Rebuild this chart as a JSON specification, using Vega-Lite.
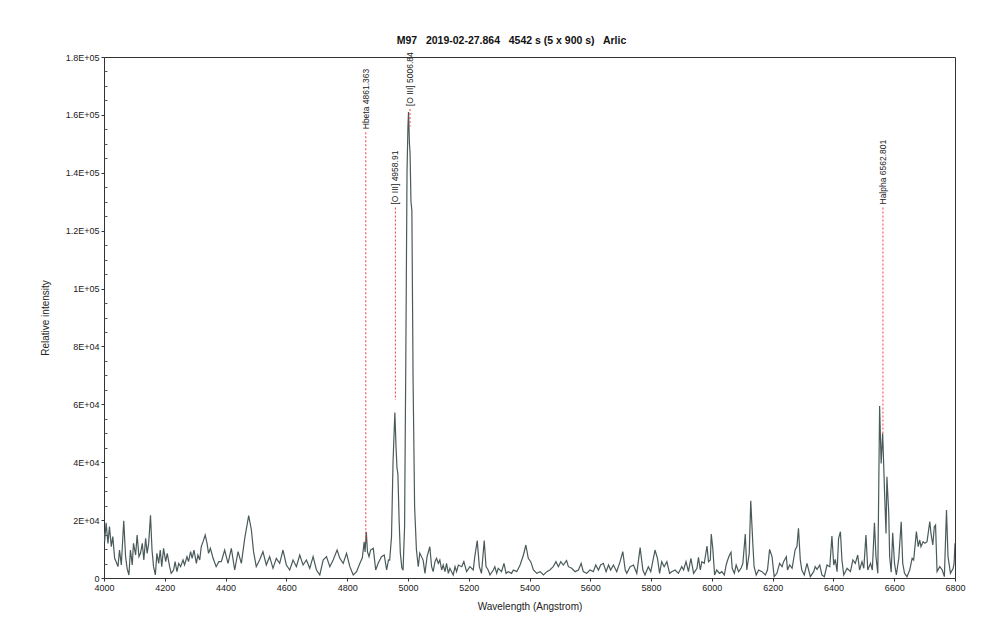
{
  "$schema": "https://vega.github.io/schema/vega-lite/v6.json",
  "width": 851,
  "height": 521,
  "autosize": {"type": "none"},
  "padding": {"left": 104, "top": 57, "right": 45, "bottom": 61},
  "background": "white",
  "config": {
    "view": {"stroke": "#333333", "strokeWidth": 1},
    "font": "Liberation Sans",
    "axis": {"grid": false, "domainColor": "#333333", "tickColor": "#333333", "labelColor": "#222222", "titleColor": "#222222", "labelFont": "Liberation Sans", "titleFont": "Liberation Sans", "labelFontSize": 9, "titleFontSize": 10, "titleFontWeight": "normal", "labelFlush": false}
  },
  "title": {"text": "M97\u00a0\u00a0 2019-02-27.864\u00a0\u00a0 4542 s (5 x 900 s)\u00a0\u00a0 Arlic", "fontSize": 10.5, "fontWeight": "bold", "color": "#111111", "anchor": "middle", "dx": -18, "offset": 6, "font": "Liberation Sans"},
  "datasets": {
    "spec": [
      {"w":4000,"f":16000},{"w":4002,"f":12550},{"w":4007,"f":19100},{"w":4013,"f":11980},{"w":4018,"f":17735},{"w":4024,"f":10830},{"w":4029,"f":14280},{"w":4035,"f":6800},{"w":4040,"f":5640},{"w":4046,"f":3915},{"w":4051,"f":9670},{"w":4057,"f":4490},{"w":4065,"f":19810},{"w":4071,"f":7370},{"w":4076,"f":3340},{"w":4082,"f":1040},{"w":4087,"f":9670},{"w":4093,"f":4490},{"w":4097,"f":11980},{"w":4104,"f":7950},{"w":4109,"f":14860},{"w":4115,"f":7370},{"w":4120,"f":8520},{"w":4126,"f":11980},{"w":4131,"f":6220},{"w":4137,"f":13700},{"w":4142,"f":8520},{"w":4147,"f":11980},{"w":4153,"f":21650},{"w":4158,"f":9670},{"w":4163,"f":3915},{"w":4169,"f":1040},{"w":4174,"f":8520},{"w":4180,"f":5070},{"w":4185,"f":9670},{"w":4190,"f":3915},{"w":4196,"f":10250},{"w":4203,"f":5640},{"w":4208,"f":8520},{"w":4216,"f":3915},{"w":4221,"f":1610},{"w":4229,"f":2760},{"w":4234,"f":5640},{"w":4240,"f":2190},{"w":4246,"f":5070},{"w":4252,"f":3915},{"w":4260,"f":6220},{"w":4265,"f":4490},{"w":4273,"f":7370},{"w":4278,"f":5640},{"w":4285,"f":9100},{"w":4290,"f":6800},{"w":4296,"f":9670},{"w":4304,"f":5070},{"w":4309,"f":7950},{"w":4315,"f":6220},{"w":4320,"f":10830},{"w":4326,"f":12550},{"w":4333,"f":14860},{"w":4339,"f":11980},{"w":4344,"f":8520},{"w":4350,"f":10250},{"w":4359,"f":6800},{"w":4369,"f":3915},{"w":4378,"f":5640},
      {"w":4386,"f":5640},{"w":4397,"f":9670},{"w":4408,"f":5070},{"w":4419,"f":10250},{"w":4430,"f":2760},{"w":4441,"f":9100},{"w":4452,"f":5070},{"w":4463,"f":13700},{"w":4476,"f":21540},{"w":4485,"f":16580},{"w":4492,"f":9100},{"w":4501,"f":3915},{"w":4512,"f":6220},{"w":4523,"f":9100},{"w":4534,"f":4490},{"w":4545,"f":7370},{"w":4556,"f":3340},{"w":4567,"f":6800},{"w":4578,"f":5070},{"w":4589,"f":9670},{"w":4600,"f":4490},{"w":4611,"f":2760},{"w":4622,"f":6220},{"w":4633,"f":3915},{"w":4644,"f":7950},{"w":4655,"f":4490},{"w":4666,"f":6220},{"w":4677,"f":3340},{"w":4688,"f":7370},{"w":4699,"f":2760},{"w":4710,"f":1040},{"w":4721,"f":6220},{"w":4732,"f":7370},{"w":4743,"f":3915},{"w":4754,"f":6220},{"w":4767,"f":9670},{"w":4776,"f":6800},{"w":4787,"f":5070},{"w":4798,"f":8520},{"w":4809,"f":3915},{"w":4820,"f":1040},{"w":4831,"f":2190},{"w":4842,"f":5070},{"w":4850,"f":7000},{"w":4856,"f":12500},{"w":4859,"f":9000},{"w":4863,"f":16000},{"w":4867,"f":9000},{"w":4872,"f":7370},{"w":4877,"f":9670},{"w":4886,"f":10250},{"w":4894,"f":2760},{"w":4902,"f":5070},{"w":4913,"f":7370},{"w":4922,"f":7950},{"w":4930,"f":2760},{"w":4936,"f":6220},{"w":4940,"f":6200},
      {"w":4946,"f":14300},{"w":4951,"f":40000},{"w":4957,"f":57200},{"w":4961,"f":45000},{"w":4964,"f":38000},{"w":4967,"f":36000},{"w":4971,"f":20000},{"w":4975,"f":8600},{"w":4980,"f":3500},{"w":4984,"f":2650},{"w":4989,"f":17600},{"w":4993,"f":75000},{"w":4997,"f":140000},{"w":5000,"f":156000},{"w":5002,"f":161000},{"w":5005,"f":150000},{"w":5007,"f":147000},{"w":5010,"f":130000},{"w":5013,"f":127000},{"w":5017,"f":68000},{"w":5022,"f":24600},{"w":5028,"f":9700},{"w":5034,"f":3900},{"w":5039,"f":8600},{"w":5050,"f":6200},{"w":5056,"f":1600},{"w":5063,"f":7400},{"w":5072,"f":10800},
      {"w":5078,"f":3900},{"w":5083,"f":2200},{"w":5089,"f":5640},{"w":5094,"f":6800},{"w":5100,"f":5070},{"w":5105,"f":6220},{"w":5111,"f":2760},{"w":5116,"f":4490},{"w":5122,"f":2190},{"w":5127,"f":5070},{"w":5133,"f":1610},{"w":5138,"f":3340},{"w":5149,"f":1040},{"w":5155,"f":3915},{"w":5160,"f":2190},{"w":5166,"f":4490},{"w":5177,"f":3915},{"w":5184,"f":5640},{"w":5193,"f":2190},{"w":5204,"f":3915},{"w":5215,"f":2760},{"w":5220,"f":7370},{"w":5228,"f":12900},{"w":5235,"f":3915},{"w":5242,"f":1610},{"w":5251,"f":12900},{"w":5257,"f":3915},{"w":5264,"f":2760},{"w":5270,"f":1040},{"w":5281,"f":2760},{"w":5286,"f":3915},{"w":5292,"f":1610},{"w":5297,"f":3340},{"w":5308,"f":2190},{"w":5316,"f":5070},{"w":5323,"f":1610},{"w":5330,"f":2190},{"w":5341,"f":1610},{"w":5347,"f":2760},{"w":5358,"f":2190},{"w":5369,"f":4490},{"w":5380,"f":7950},{"w":5388,"f":11400},{"w":5396,"f":6800},{"w":5404,"f":5640},{"w":5413,"f":2760},{"w":5424,"f":1610},{"w":5435,"f":2190},{"w":5446,"f":1040},{"w":5457,"f":2190},{"w":5467,"f":2760},{"w":5478,"f":3915},{"w":5487,"f":5640},{"w":5495,"f":3915},{"w":5503,"f":5640},{"w":5511,"f":4490},{"w":5522,"f":5990},{"w":5528,"f":3915},{"w":5539,"f":3340},{"w":5550,"f":2190},{"w":5561,"f":2760},{"w":5570,"f":5070},{"w":5577,"f":2190},{"w":5588,"f":1610},{"w":5599,"f":2760},{"w":5610,"f":2190},{"w":5618,"f":4490},{"w":5627,"f":2760},{"w":5634,"f":4490},{"w":5643,"f":5070},{"w":5652,"f":2190},{"w":5660,"f":4490},{"w":5667,"f":2760},{"w":5676,"f":4490},{"w":5687,"f":2190},{"w":5698,"f":5640},{"w":5707,"f":9100},{"w":5715,"f":2760},{"w":5720,"f":1610},{"w":5731,"f":3915},{"w":5742,"f":4490},{"w":5753,"f":1610},{"w":5764,"f":10480},{"w":5773,"f":2760},{"w":5780,"f":1040},{"w":5791,"f":3915},{"w":5799,"f":2190},{"w":5813,"f":9670},{"w":5821,"f":6800},{"w":5828,"f":1610},{"w":5835,"f":5640},{"w":5843,"f":3915},{"w":5852,"f":5640},{"w":5861,"f":1610},{"w":5868,"f":2190},{"w":5879,"f":2760},{"w":5890,"f":1610},
      {"w":5901,"f":3915},{"w":5907,"f":2760},{"w":5915,"f":5640},{"w":5923,"f":2190},{"w":5931,"f":6790},{"w":5940,"f":1610},{"w":5951,"f":3340},{"w":5956,"f":7140},{"w":5962,"f":2760},{"w":5967,"f":5640},{"w":5975,"f":5070},{"w":5984,"f":11060},{"w":5989,"f":5640},{"w":5995,"f":6220},{"w":5998,"f":15200},{"w":6003,"f":10250},{"w":6009,"f":1040},{"w":6016,"f":2760},{"w":6025,"f":1610},{"w":6033,"f":2190},{"w":6041,"f":1040},{"w":6047,"f":4490},{"w":6052,"f":6220},{"w":6058,"f":7950},{"w":6063,"f":8870},{"w":6067,"f":3340},{"w":6074,"f":1610},{"w":6080,"f":4490},{"w":6088,"f":2190},{"w":6096,"f":3340},{"w":6102,"f":5070},{"w":6110,"f":15200},{"w":6115,"f":2760},{"w":6123,"f":8520},{"w":6128,"f":26720},{"w":6135,"f":11400},{"w":6139,"f":3915},{"w":6146,"f":1040},{"w":6154,"f":2760},{"w":6165,"f":2190},{"w":6176,"f":1040},{"w":6183,"f":2760},{"w":6190,"f":9900},{"w":6198,"f":7370},{"w":6205,"f":460},{"w":6214,"f":1610},{"w":6223,"f":5070},{"w":6231,"f":3915},{"w":6236,"f":5640},{"w":6245,"f":7370},{"w":6249,"f":2760},{"w":6256,"f":4490},{"w":6264,"f":3340},{"w":6274,"f":9670},{"w":6280,"f":10830},{"w":6285,"f":17160},{"w":6291,"f":6220},{"w":6296,"f":2760},{"w":6304,"f":1040},{"w":6313,"f":5070},{"w":6324,"f":460},{"w":6335,"f":2190},{"w":6340,"f":3915},{"w":6346,"f":2990},{"w":6355,"f":4490},{"w":6362,"f":1040},{"w":6370,"f":460},{"w":6379,"f":4490},{"w":6388,"f":3915},{"w":6395,"f":14510},{"w":6401,"f":4490},{"w":6406,"f":6450},{"w":6412,"f":2190},{"w":6417,"f":13700},{"w":6423,"f":16010},{"w":6428,"f":6220},{"w":6434,"f":1040},{"w":6445,"f":3340},{"w":6456,"f":2190},{"w":6464,"f":6220},{"w":6472,"f":5070},{"w":6480,"f":7950},{"w":6486,"f":2760},{"w":6494,"f":5640},{"w":6500,"f":3340},{"w":6507,"f":14860},{"w":6513,"f":2760},{"w":6522,"f":5070},{"w":6528,"f":2760},{"w":6535,"f":19120},{"w":6540,"f":7370},{"w":6546,"f":1610},
      {"w":6549,"f":30000},{"w":6552,"f":59400},{"w":6557,"f":39600},{"w":6562,"f":50000},{"w":6568,"f":30400},{"w":6573,"f":15400},{"w":6576,"f":35000},{"w":6582,"f":22300},{"w":6585,"f":7400},{"w":6590,"f":2000},{"w":6595,"f":15600},
      {"w":6601,"f":5070},{"w":6607,"f":1040},{"w":6615,"f":6790},{"w":6623,"f":19460},{"w":6628,"f":5070},{"w":6634,"f":1610},{"w":6642,"f":460},{"w":6651,"f":2760},{"w":6659,"f":6790},{"w":6664,"f":6220},{"w":6673,"f":16010},{"w":6679,"f":10830},{"w":6684,"f":13130},{"w":6688,"f":10830},{"w":6695,"f":12550},{"w":6701,"f":11980},{"w":6708,"f":12550},{"w":6717,"f":19460},{"w":6721,"f":15430},{"w":6727,"f":11400},{"w":6732,"f":17740},{"w":6736,"f":18310},{"w":6741,"f":2190},{"w":6750,"f":3915},{"w":6758,"f":2760},{"w":6765,"f":460},{"w":6772,"f":23490},{"w":6777,"f":7370},{"w":6785,"f":1610},{"w":6794,"f":3340},{"w":6797,"f":5070},{"w":6800,"f":12000}
    ],
    "lines": [
      {"name": "Hbeta 4861.363", "w": 4861.363, "top": 154000, "bot": 12500},
      {"name": "[O III] 4958.91", "w": 4958.91, "top": 128000, "bot": 61500},
      {"name": "[O III] 5006.84", "w": 5006.84, "top": 162000, "bot": 156000},
      {"name": "Halpha 6562.801", "w": 6562.801, "top": 128000, "bot": 50000}
    ]
  },
  "layer": [
    {
      "data": {"name": "spec"},
      "mark": {"type": "line", "color": "#4a5a5a", "strokeWidth": 1.2, "clip": true},
      "encoding": {
        "x": {"field": "w", "type": "quantitative", "scale": {"domain": [4000, 6800], "nice": false, "zero": false},
              "axis": {"orient": "bottom", "values": [4000,4200,4400,4600,4800,5000,5200,5400,5600,5800,6000,6200,6400,6600,6800], "format": "d", "tickSize": 3, "labelPadding": 2, "labelFlush": false, "title": "Wavelength (Angstrom)", "titlePadding": 9}},
        "y": {"field": "f", "type": "quantitative", "scale": {"domain": [0, 180000], "nice": false, "zero": true},
              "axis": {"orient": "left", "values": [0,20000,40000,60000,80000,100000,120000,140000,160000,180000], "labelExpr": "datum.value == 0 ? '0' : replace(format(datum.value, '~e'), 'e+', 'E+0')", "tickSize": 3, "labelPadding": 2, "labelFlush": false, "title": "Relative intensity", "titlePadding": 15}}
      }
    },
    {
      "data": {"name": "spec"},
      "mark": {"type": "line", "opacity": 0},
      "encoding": {
        "x": {"field": "w", "type": "quantitative", "scale": {"domain": [4000, 6800], "nice": false, "zero": false}, "axis": null},
        "y": {"field": "f", "type": "quantitative", "scale": {"domain": [0, 180000], "nice": false, "zero": true},
              "axis": {"orient": "left", "values": [5000,10000,15000,25000,30000,35000,45000,50000,55000,65000,70000,75000,85000,90000,95000,105000,110000,115000,125000,130000,135000,145000,150000,155000,165000,170000,175000], "labels": false, "domain": false, "tickSize": -3, "tickColor": "#555555", "title": null}}
      }
    },
    {
      "data": {"name": "lines"},
      "mark": {"type": "rule", "color": "#ff3b3b", "strokeWidth": 1, "strokeDash": [2, 2]},
      "encoding": {
        "x": {"field": "w", "type": "quantitative", "scale": {"domain": [4000, 6800], "nice": false, "zero": false}, "axis": null},
        "y": {"field": "top", "type": "quantitative", "scale": {"domain": [0, 180000], "nice": false, "zero": true}, "axis": null},
        "y2": {"field": "bot"}
      }
    },
    {
      "data": {"name": "lines"},
      "mark": {"type": "text", "angle": 270, "align": "left", "baseline": "middle", "dx": 3, "fontSize": 8.5, "color": "#222222", "font": "Liberation Sans"},
      "encoding": {
        "x": {"field": "w", "type": "quantitative", "scale": {"domain": [4000, 6800], "nice": false, "zero": false}, "axis": null},
        "y": {"field": "top", "type": "quantitative", "scale": {"domain": [0, 180000], "nice": false, "zero": true}, "axis": null},
        "text": {"field": "name"}
      }
    }
  ],
  "resolve": {"axis": {"x": "independent", "y": "independent"}}
}
